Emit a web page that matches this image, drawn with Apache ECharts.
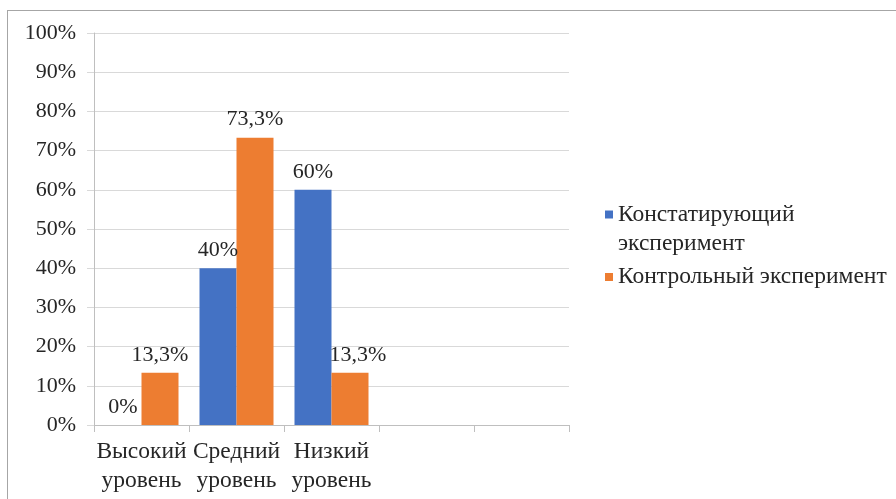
<!DOCTYPE html>
<html>
<head>
<meta charset="utf-8">
<script src="https://cdn.jsdelivr.net/npm/echarts@6/dist/echarts.min.js"></script>
<style>
  html, body { margin: 0; padding: 0; background: #fff; }
  #wrap { position: relative; width: 896px; height: 499px; overflow: hidden; }
  #frame { position: absolute; left: 7px; top: 10px; width: 1000px; height: 600px; border: 1px solid #a6a6a6; }
  #chart { position: absolute; left: 0; top: 0; width: 896px; height: 499px; }
</style>
</head>
<body>
<div id="wrap">
  <div id="frame"></div>
  <div id="chart"></div>
</div>
<script>
const categories = ['Высокий уровень', 'Средний уровень', 'Низкий уровень', '', '']
const seriesNames = ['Констатирующий эксперимент', 'Контрольный эксперимент']
const ascertaining = [0, 40, 60]
const control = [13.3, 73.3, 13.3]
const yTicks = [0, 10, 20, 30, 40, 50, 60, 70, 80, 90, 100]

const blue = '#4472c4'
const orange = '#ed7d31'
const font = '"Liberation Serif", "Times New Roman", serif'
const textColor = '#262626'
const fs = 22
const fsText = 23.5

const fmtPct = (v) => String(v).replace('.', ',') + '%'

const chart = echarts.init(document.getElementById('chart'))

// tall icon so the square sits beside the first line of a two-line legend text
const tallIcon = 'path://M0,10.5h8v8h-8z M0,0 M0,58'

const barLabel = {
  show: true,
  position: 'top',
  distance: 7,
  fontFamily: font,
  fontSize: fs,
  color: textColor,
  formatter: (p) => fmtPct(p.value)
}

chart.setOption({
  animation: false,
  textStyle: { fontFamily: font },
  grid: { left: 94, right: 327, top: 33, bottom: 74 },
  legend: [
    {
      data: [{ name: seriesNames[0], icon: tallIcon }],
      left: 605,
      top: 200,
      padding: 0,
      itemWidth: 8,
      itemHeight: 58,
      selectedMode: false,
      formatter: () => 'Констатирующий\nэксперимент',
      textStyle: { fontFamily: font, fontSize: fsText, color: textColor, lineHeight: 29 }
    },
    {
      data: [{ name: seriesNames[1], icon: 'rect' }],
      left: 605,
      top: 265,
      padding: 0,
      itemWidth: 8,
      itemHeight: 8,
      selectedMode: false,
      textStyle: { fontFamily: font, fontSize: fsText, color: textColor }
    }
  ],
  xAxis: {
    type: 'category',
    data: categories,
    axisLine: { lineStyle: { color: '#bfbfbf', width: 1 } },
    axisTick: { show: true, length: 7, lineStyle: { color: '#bfbfbf' } },
    axisLabel: {
      interval: 0,
      margin: 12,
      fontFamily: font,
      fontSize: fsText,
      color: textColor,
      lineHeight: 29,
      formatter: (v) => v.replace(' ', '\n')
    }
  },
  yAxis: {
    type: 'value',
    min: 0,
    max: 100,
    interval: 10,
    axisLine: { show: true, lineStyle: { color: '#bfbfbf' } },
    axisTick: { show: true, length: 7, lineStyle: { color: '#d9d9d9' } },
    splitLine: { lineStyle: { color: '#d9d9d9', width: 1 } },
    axisLabel: {
      margin: 18,
      fontFamily: font,
      fontSize: fs,
      color: textColor,
      formatter: (v) => yTicks.includes(v) ? v + '%' : ''
    }
  },
  series: [
    {
      name: seriesNames[0],
      type: 'bar',
      data: ascertaining,
      barWidth: 37,
      barGap: '0%',
      itemStyle: { color: blue },
      label: barLabel
    },
    {
      name: seriesNames[1],
      type: 'bar',
      data: control.map((v, i) => i === 2 ? { value: v, label: { offset: [8, 0] } } : v),
      barWidth: 37,
      itemStyle: { color: orange },
      label: barLabel
    }
  ]
})
</script>
</body>
</html>
